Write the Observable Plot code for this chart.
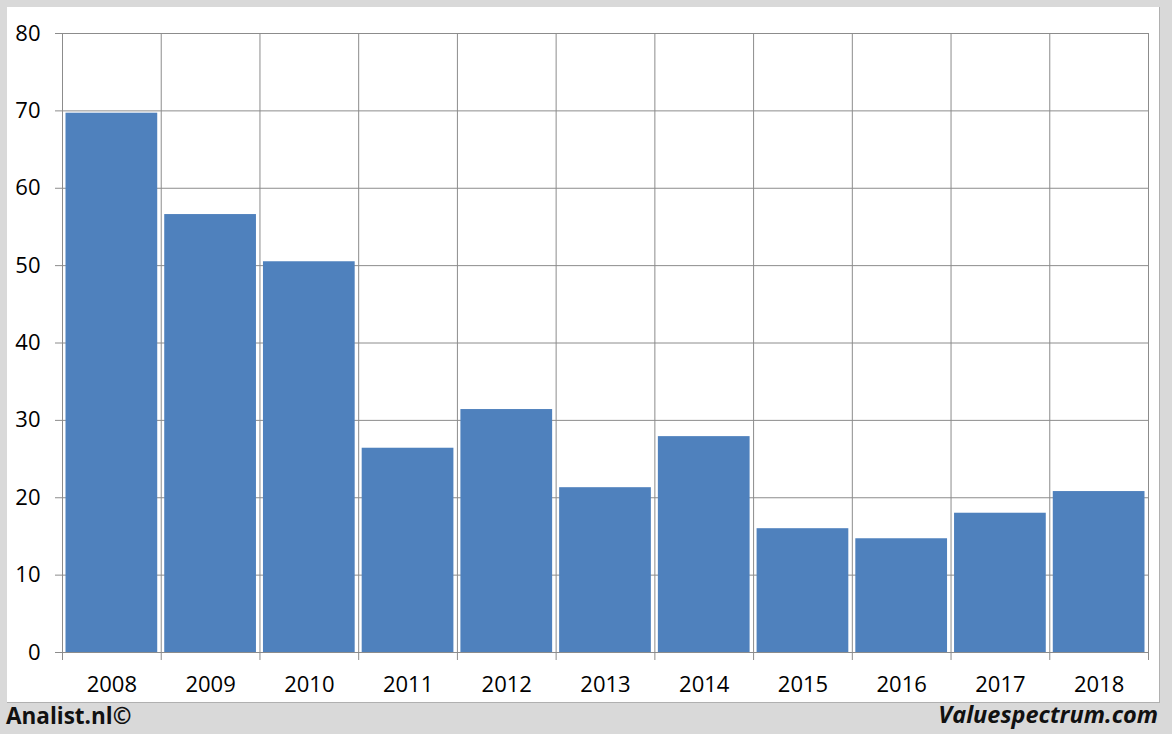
<!DOCTYPE html>
<html>
<head>
<meta charset="utf-8">
<script src="https://cdn.jsdelivr.net/npm/d3@7"></script>
<script src="https://cdn.jsdelivr.net/npm/@observablehq/plot@0.6"></script>
<style>
  html, body { margin: 0; padding: 0; }
  body { width: 1172px; height: 734px; background: #d9d9d9; position: relative; overflow: hidden; font-family: "Open Sans", sans-serif; }
  #panel { position: absolute; left: 7px; top: 7px; width: 1152px; height: 695px; background: #fff; border-right: 1px solid #b0b0b0; border-bottom: 1px solid #b0b0b0; }
  #chart { position: absolute; left: 0; top: 0; }
  #left { position: absolute; left: 6px; top: 700px; font-weight: bold; font-size: 22.5px; color: #111; }
  #right { position: absolute; right: 14px; top: 698px; font-weight: bold; font-style: italic; font-size: 23.5px; color: #111; }
</style>
</head>
<body>
<div id="panel"></div>
<div id="chart"></div>
<div id="left">Analist.nl©</div>
<div id="right">Valuespectrum.com</div>
<script>
const years = [2008, 2009, 2010, 2011, 2012, 2013, 2014, 2015, 2016, 2017, 2018];
const values = [69.7, 56.6, 50.5, 26.4, 31.4, 21.3, 27.9, 16.0, 14.7, 18.0, 20.8];
const yTicks = [0, 10, 20, 30, 40, 50, 60, 70, 80];

const data = years.map((y, i) => ({year: y, value: values[i]}));
const bounds = years.map(y => y - 0.5).concat([years[years.length - 1] + 0.5]);

const chart = Plot.plot({
  width: 1172,
  height: 734,
  marginLeft: 62,
  marginRight: 24,
  marginTop: 33,
  marginBottom: 82,
  style: {background: "transparent", fontFamily: "Open Sans", fontSize: "22px", color: "#000"},
  x: {type: "linear", domain: [bounds[0], bounds[bounds.length - 1]]},
  y: {domain: [0, 80]},
  marks: [
    Plot.ruleY(yTicks, {stroke: "#8c8c8c", strokeWidth: 1}),
    Plot.ruleX(bounds, {stroke: "#8c8c8c", strokeWidth: 1}),
    Plot.rectY(data, {x1: d => d.year - 0.5, x2: d => d.year + 0.5, y1: 0, y2: "value", fill: "#4f81bd", insetLeft: 3.5, insetRight: 3.5}),
    Plot.axisY({ticks: yTicks, tickSize: 7, tickPadding: 15, stroke: "#8c8c8c", fill: "#000", label: null, tickFormat: d => String(d)}),
    Plot.axisX({ticks: bounds, tickSize: 8, stroke: "#8c8c8c", tickFormat: () => "", label: null}),
    Plot.axisX({ticks: years, tickSize: 0, tickPadding: 24, fill: "#000", tickFormat: d => String(d), label: null})
  ]
});
document.getElementById("chart").appendChild(chart);
</script>
</body>
</html>
